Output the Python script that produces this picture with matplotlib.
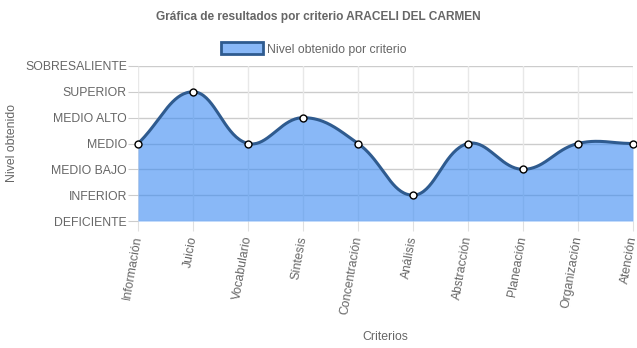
import numpy as np
import matplotlib
matplotlib.use("Agg")
import matplotlib.pyplot as plt
from matplotlib.patches import Patch

criterios = ["Información", "Juicio", "Vocabulario", "Síntesis", "Concentración",
             "Análisis", "Abstracción", "Planeación", "Organización", "Atención"]
niveles = ["DEFICIENTE", "INFERIOR", "MEDIO BAJO", "MEDIO", "MEDIO ALTO",
           "SUPERIOR", "SOBRESALIENTE"]
valores = [3, 5, 3, 4, 3, 1, 3, 2, 3, 3]

plt.rcParams['font.family'] = ['Liberation Sans', 'DejaVu Sans']
gris = '#666666'

fig = plt.figure(figsize=(6.37, 3.48), dpi=100)
ax = fig.add_axes([138/637, 1-221/348, 495/637, 155/348])


def spline(xs, ys, sx, sy, t=0.4, n=40):
    # chart.js style bezier curve, control points in pixel space
    px = np.asarray(xs, float) * sx
    py = np.asarray(ys, float) * sy
    outx, outy = [], []
    cps = []
    for i in range(len(px)):
        pr = max(i - 1, 0)
        nx = min(i + 1, len(px) - 1)
        d01 = np.hypot(px[i] - px[pr], py[i] - py[pr])
        d12 = np.hypot(px[nx] - px[i], py[nx] - py[i])
        tot = d01 + d12
        s01 = d01 / tot if tot else 0
        s12 = d12 / tot if tot else 0
        fa, fb = t * s01, t * s12
        cps.append(((px[i] - fa * (px[nx] - px[pr]), py[i] - fa * (py[nx] - py[pr])),
                    (px[i] + fb * (px[nx] - px[pr]), py[i] + fb * (py[nx] - py[pr]))))
    u = np.linspace(0, 1, n)
    for i in range(len(px) - 1):
        p0 = np.array([px[i], py[i]])
        p1 = np.array(cps[i][1])
        p2 = np.array(cps[i + 1][0])
        p3 = np.array([px[i + 1], py[i + 1]])
        b = ((1 - u) ** 3)[:, None] * p0 + (3 * (1 - u) ** 2 * u)[:, None] * p1 \
            + (3 * (1 - u) * u ** 2)[:, None] * p2 + (u ** 3)[:, None] * p3
        outx.extend(b[:, 0] / sx)
        outy.extend(b[:, 1] / sy)
    return np.array(outx), np.array(outy)


x = np.arange(len(criterios))
cx, cy = spline(x, valores, 55, 25.8)

ax.set_xlim(0, len(criterios) - 1)
ax.set_ylim(0, len(niveles) - 1)

for yy in range(len(niveles)):
    ax.axhline(yy, color='#cccccc', lw=1, zorder=1)
for xx in x:
    ax.axvline(xx, color='#e8e8e8', lw=1, zorder=1)

ax.fill_between(cx, 0, cy, color=(58/255, 138/255, 242/255, 0.6), lw=0, zorder=2)
ax.plot(cx, cy, color='#2f5b8f', lw=2.2, zorder=3, solid_capstyle='round')
ax.plot(x, valores, 'o', ms=5, mfc='white', mec='black', mew=1, zorder=4, clip_on=False)

ax.set_yticks(range(len(niveles)))
ax.set_yticklabels(niveles)
ax.set_xticks(x)
ax.set_xticklabels(criterios, rotation=80, ha='right', va='center', rotation_mode='anchor')
ax.tick_params(axis='y', length=7, color='#cccccc', labelcolor=gris, labelsize=8.8, pad=1)
ax.tick_params(axis='x', length=7, color='#e0e0e0', labelcolor=gris, labelsize=8.8, pad=4)
for s in ax.spines.values():
    s.set_visible(False)

fig.text(318/637, 1-17/348, "Gráfica de resultados por criterio ARACELI DEL CARMEN",
         ha='center', va='center', fontsize=8.6, fontweight='bold', color=gris)
fig.text(385/637, 1-337/348, "Criterios", ha='center', va='center', fontsize=8.8, color=gris)
fig.text(12/637, 1-143/348, "Nivel obtenido", ha='center', va='center', rotation=90,
         fontsize=8.8, color=gris)

handle = Patch(facecolor=(58/255, 138/255, 242/255, 0.6), edgecolor='#2f5b8f', lw=2)
fig.legend([handle], ["Nivel obtenido por criterio"], loc='center', bbox_to_anchor=(314/637, 1-49/348),
           frameon=False, fontsize=8.8, labelcolor=gris, handlelength=3.4, handleheight=1.1,
           handletextpad=0.4)

fig.savefig("out.png", dpi=100)
